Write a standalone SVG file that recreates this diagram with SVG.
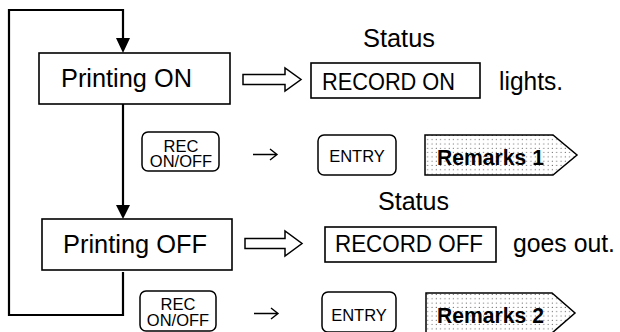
<svg xmlns="http://www.w3.org/2000/svg" width="620" height="332" viewBox="0 0 620 332">
<style>
text{font-family:"Liberation Sans",Arial,sans-serif;fill:#000}
.box{fill:#fff;stroke:#000;stroke-width:1.6}
.key{fill:#fff;stroke:#000;stroke-width:1.5}
.big{font-size:26px}
.st{font-size:26px}
.rec{font-size:23px}
.k{font-size:16.5px;text-anchor:middle}
.rm{font-size:21.5px;font-weight:bold}
.loop{fill:none;stroke:#000;stroke-width:2.2}
.harrow{fill:#fff;stroke:#000;stroke-width:1.5;stroke-linejoin:miter}
.tag{fill:url(#dots);stroke:#000;stroke-width:1.5}
.thin{fill:none;stroke:#000;stroke-width:1.4}
</style>
<defs>
<pattern id="dots" width="4.3" height="4.3" patternUnits="userSpaceOnUse">
<rect width="4.3" height="4.3" fill="#fff"/>
<circle cx="2" cy="2" r="0.6" fill="#444"/>
</pattern>
</defs>
<g id="connectors">
<path class="loop" d="M123,104 V206"/>
<polygon points="116,205 130,205 123,219" fill="#000"/>
<path class="loop" d="M123,272 V315 H9 V10 H123 V39"/>
<polygon points="116,38 130,38 123,53" fill="#000"/>
<path class="harrow" d="M243,74.5 H285 V68 L301,79.5 L285,91 V84.5 H243 Z"/>
<path class="harrow" d="M245,238.5 H285 V231 L302,243.5 L285,256 V248.5 H245 Z"/>
<path class="thin" d="M253,154.5 H277 M270,149 L277,154.5 L270,160"/>
<path class="thin" d="M254,313.5 H278 M271,308 L278,313.5 L271,319"/>
</g>
<g id="printing-on">
<rect class="box" x="39" y="53" width="191" height="51"/>
<text class="big" x="61" y="87" textLength="131" lengthAdjust="spacingAndGlyphs">Printing ON</text>
</g>
<g id="status-on">
<text class="st" x="363" y="47" textLength="72" lengthAdjust="spacingAndGlyphs">Status</text>
<rect class="box" x="311" y="63" width="169" height="35"/>
<text class="rec" x="322" y="90" textLength="133" lengthAdjust="spacingAndGlyphs">RECORD ON</text>
<text class="st" x="499" y="90" textLength="64" lengthAdjust="spacingAndGlyphs">lights.</text>
</g>
<g id="key-rec-1">
<rect class="key" x="142" y="132" width="77" height="39" rx="6"/>
<text class="k" x="181" y="152">REC</text>
<text class="k" x="181" y="167">ON/OFF</text>
</g>
<g id="key-entry-1">
<rect class="key" x="318" y="135" width="78" height="40" rx="6"/>
<text class="k" x="357" y="162">ENTRY</text>
</g>
<g id="remarks-1">
<path class="tag" d="M425,135 H553 L577,155 L553,175 H425 Z"/>
<text class="rm" x="437" y="165" textLength="107" lengthAdjust="spacingAndGlyphs">Remarks 1</text>
</g>
<g id="printing-off">
<rect class="box" x="42" y="219" width="190" height="51"/>
<text class="big" x="63" y="253" textLength="144" lengthAdjust="spacingAndGlyphs">Printing OFF</text>
</g>
<g id="status-off">
<text class="st" x="378" y="210" textLength="71" lengthAdjust="spacingAndGlyphs">Status</text>
<rect class="box" x="325" y="227" width="171" height="35"/>
<text class="rec" x="335" y="252" textLength="148" lengthAdjust="spacingAndGlyphs">RECORD OFF</text>
<text class="st" x="513" y="252" textLength="102" lengthAdjust="spacingAndGlyphs">goes out.</text>
</g>
<g id="key-rec-2">
<rect class="key" x="140" y="291" width="76" height="40" rx="6"/>
<text class="k" x="178" y="310">REC</text>
<text class="k" x="178" y="326">ON/OFF</text>
</g>
<g id="key-entry-2">
<rect class="key" x="322" y="292" width="74" height="40" rx="6"/>
<text class="k" x="359" y="321">ENTRY</text>
</g>
<g id="remarks-2">
<path class="tag" d="M426,293 H552 L575,313 L552,333 H426 Z"/>
<text class="rm" x="437" y="323" textLength="107" lengthAdjust="spacingAndGlyphs">Remarks 2</text>
</g>
</svg>
